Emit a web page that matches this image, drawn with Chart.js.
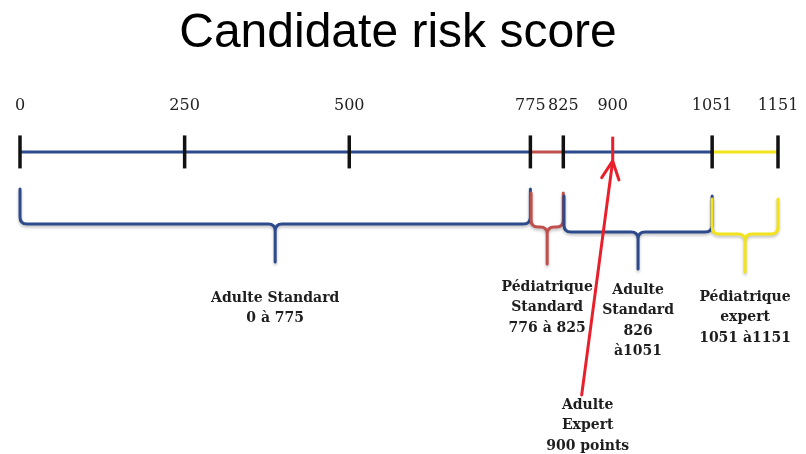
<!DOCTYPE html>
<html>
<head>
<meta charset="utf-8">
<script src="https://cdn.jsdelivr.net/npm/chart.js@4"></script>
<style>
  html, body { margin: 0; padding: 0; background: #fff; }
</style>
</head>
<body>
<canvas id="chart" width="806" height="454"></canvas>
<script>
// score scale
const axisStops = [0, 250, 500, 775, 825, 900, 1051, 1151];
const markStops = [0, 250, 500, 775, 825, 1051, 1151];
const expertScore = 900;

// coloured pieces of the axis line
const segStarts = [0, 775, 825, 1051];
const segEnds = [775, 825, 1051, 1151];
const segColors = ['#2c4a8c', '#c0504d', '#2c4a8c', '#f2e41c'];

// bands shown with braces
const bandFrom = [0, 776, 826, 1051];
const bandTo = [775, 825, 1051, 1151];
const bandLabels = [
    ['Adulte Standard', '0 à 775'],
    ['Pédiatrique', 'Standard', '776 à 825'],
    ['Adulte', 'Standard', '826', 'à1051'],
    ['Pédiatrique', 'expert', '1051 à1151']
];
const expertLabel = ['Adulte', 'Expert', '900 points'];

// brace drawing offsets below the axis line (px)
const braceTop = [37, 41, 44, 47];
const braceMid = [72, 75, 80, 82];
const braceTip = [110, 112, 117, 120];
const labelDy = [36, 23, 21, 25];

function drawBrace(ctx, x1, x2, yTop, yMid, yTip) {
    const xc = (x1 + x2) / 2;
    const r = 7;
    ctx.beginPath();
    ctx.moveTo(x1, yTop);
    ctx.lineTo(x1, yMid - r);
    ctx.quadraticCurveTo(x1, yMid, x1 + r, yMid);
    ctx.lineTo(xc - r, yMid);
    ctx.quadraticCurveTo(xc, yMid, xc, yMid + r);
    ctx.lineTo(xc, yTip);
    ctx.moveTo(x2, yTop);
    ctx.lineTo(x2, yMid - r);
    ctx.quadraticCurveTo(x2, yMid, x2 - r, yMid);
    ctx.lineTo(xc + r, yMid);
    ctx.quadraticCurveTo(xc, yMid, xc, yMid + r);
    ctx.stroke();
}

function drawLines(ctx, lines, cx, y0) {
    lines.forEach((t, i) => ctx.fillText(t, cx, y0 + i * 20.5));
}

const annotate = {
    id: 'annotate',
    afterDatasetsDraw(chart) {
        const ctx = chart.ctx;
        const xs = chart.scales.x;
        const base = chart.scales.y.getPixelForValue(0);

        ctx.save();
        ctx.lineWidth = 3;
        ctx.lineCap = 'round';
        ctx.lineJoin = 'round';
        ctx.shadowColor = 'rgba(0,0,0,0.25)';
        ctx.shadowBlur = 3;
        ctx.shadowOffsetY = 2;
        bandFrom.forEach((from, i) => {
            ctx.strokeStyle = segColors[i];
            drawBrace(ctx, xs.getPixelForValue(from), xs.getPixelForValue(bandTo[i]),
                base + braceTop[i], base + braceMid[i], base + braceTip[i]);
        });
        ctx.restore();

        ctx.save();
        ctx.font = 'bold 14px "DejaVu Serif"';
        ctx.textAlign = 'center';
        ctx.textBaseline = 'middle';
        ctx.fillStyle = '#1e1e1e';
        bandFrom.forEach((from, i) => {
            const cx = (xs.getPixelForValue(from) + xs.getPixelForValue(bandTo[i])) / 2;
            drawLines(ctx, bandLabels[i], cx, base + braceTip[i] + labelDy[i]);
        });

        // arrow pointing at the expert score
        const tipX = xs.getPixelForValue(expertScore);
        const tipY = base + 9;
        const tailX = tipX - 31, tailY = base + 243;
        const labelX = tailX + 6;
        drawLines(ctx, expertLabel, labelX, base + 253);

        ctx.strokeStyle = '#e8202c';
        ctx.lineWidth = 3;
        ctx.lineCap = 'round';
        ctx.beginPath();
        ctx.moveTo(tailX, tailY);
        ctx.lineTo(tipX, tipY);
        const ang = Math.atan2(tipY - tailY, tipX - tailX);
        [0.45, -0.45].forEach(d => {
            ctx.moveTo(tipX, tipY);
            ctx.lineTo(tipX - 20 * Math.cos(ang + d), tipY - 20 * Math.sin(ang + d));
        });
        ctx.stroke();
        ctx.restore();
    }
};

const datasets = [
    {
        type: 'scatter',
        data: markStops.map(v => ({ x: v, y: 0 })),
        pointStyle: 'line',
        pointRotation: 90,
        pointRadius: 16.5,
        borderColor: '#111',
        borderWidth: 3.5,
        clip: false
    },
    {
        type: 'scatter',
        data: [{ x: expertScore, y: 3 }],
        pointStyle: 'line',
        pointRotation: 90,
        pointRadius: 12.5,
        borderColor: '#e8202c',
        borderWidth: 3,
        clip: false
    }
];
segStarts.forEach((s, i) => {
    datasets.push({
        type: 'line',
        data: [{ x: s, y: 0 }, { x: segEnds[i], y: 0 }],
        borderColor: segColors[i],
        borderWidth: 3,
        pointRadius: 0,
        clip: false
    });
});

new Chart(document.getElementById('chart'), {
    type: 'scatter',
    data: { datasets },
    options: {
        responsive: false,
        animation: false,
        layout: { padding: { left: 18, right: 28, top: 0, bottom: 0 } },
        plugins: {
            legend: { display: false },
            tooltip: { enabled: false },
            title: {
                display: true,
                text: 'Candidate risk score',
                color: '#000',
                font: { family: 'Liberation Sans', size: 48, weight: 'normal' },
                padding: { top: 5, bottom: 30 }
            }
        },
        scales: {
            x: {
                type: 'linear',
                position: 'top',
                min: 0,
                max: 1151,
                afterBuildTicks: scale => {
                    scale.ticks = axisStops.map(v => ({ value: v }));
                },
                ticks: {
                    autoSkip: false,
                    maxRotation: 0,
                    padding: 4,
                    color: '#222',
                    font: { family: 'DejaVu Serif', size: 16 },
                    callback: v => String(v)
                },
                grid: { display: false },
                border: { display: false }
            },
            y: {
                display: false,
                min: -304,
                max: 26
            }
        }
    },
    plugins: [annotate]
});
</script>
</body>
</html>
